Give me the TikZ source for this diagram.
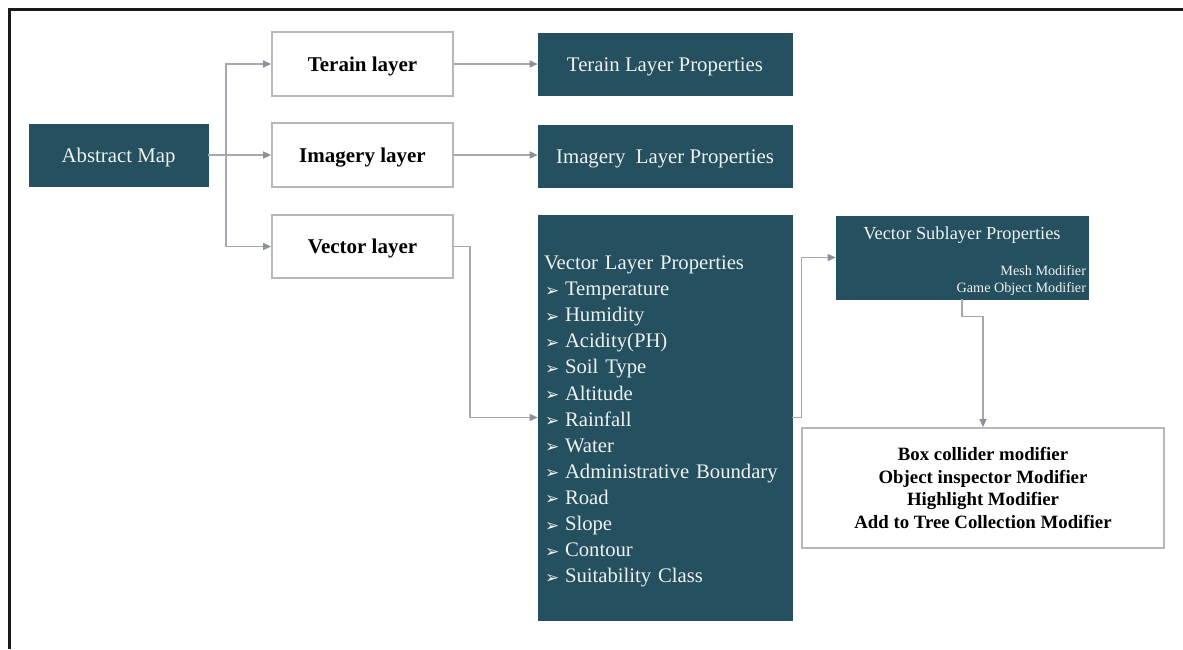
\documentclass[tikz,border=0pt]{standalone}
\usepackage{fontspec}
\setmainfont{Liberation Serif}
\newfontfamily\dejavu{DejaVu Sans}
\usetikzlibrary{arrows.meta}
\definecolor{panel}{HTML}{24505F}
\definecolor{paneltext}{HTML}{EEF1F2}
\definecolor{wire}{HTML}{A4A8B0}
\definecolor{tipcol}{HTML}{8C919C}
\definecolor{boxline}{HTML}{B8B8B8}
\definecolor{frame}{HTML}{1A1A1A}
\newcommand{\pointer}{\makebox[21pt][l]{\hspace{1pt}\raisebox{-0.5pt}{\dejavu\fontsize{17}{17}\selectfont ➢}}}
\begin{document}
\begin{tikzpicture}[x=1pt,y=-1pt,
  darkbox/.style={fill=panel, draw=panel, line width=0.6pt, text=paneltext, inner sep=0pt,
    font=\fontsize{20.8}{25}\selectfont},
  lightbox/.style={fill=white, draw=boxline, line width=1.8pt, inner sep=0pt,
    font=\bfseries\fontsize{21}{25}\selectfont},
  oneline/.style={text height=14pt, text depth=0pt},
  wirearrow/.style={draw=wire, line width=1.4pt, -{Triangle[length=8pt,width=7pt,color=tipcol]}}]
  % page and frame
  \useasboundingbox (0,0) rectangle (1183,649);
  \fill[white] (0,0) rectangle (1183,649);
  \draw[frame, line width=3pt] (9.5,649) -- (9.5,9.5) -- (1183,9.5);

  % first column
  \node[darkbox, oneline, minimum width=179pt, minimum height=62pt] (abs) at (118.5,155) {Abstract Map};

  % layer boxes
  \node[lightbox, oneline, minimum width=181pt, minimum height=64pt] (ter) at (362.5,64) {Terain layer};
  \node[lightbox, oneline, minimum width=181pt, minimum height=64pt] (img) at (362.5,155) {Imagery layer};
  \node[lightbox, oneline, minimum width=181pt, minimum height=63pt] (vec) at (362.5,246.5) {Vector layer};

  % property boxes
  \node[darkbox, oneline, minimum width=254pt, minimum height=62pt] (terp) at (665,64) {Terain Layer Properties};
  \node[darkbox, oneline, minimum width=254pt, minimum height=62pt] (imgp) at (665,156) {Imagery\ \ Layer Properties};
  \node[darkbox, minimum width=254pt, minimum height=405pt] (vecp) at (665,417.5) {};
  \node[text=paneltext, inner sep=0pt, text width=242pt, align=left,
        font=\fontsize{20.7}{26.1}\selectfont] (vecplist) at ([yshift=-4pt]vecp.center)
    {Vector Layer Properties\\
     \pointer Temperature\\
     \pointer Humidity\\
     \pointer Acidity(PH)\\
     \pointer Soil Type\\
     \pointer Altitude\\
     \pointer Rainfall\\
     \pointer Water\\
     \pointer Administrative Boundary\\
     \pointer Road\\
     \pointer Slope\\
     \pointer Contour\\
     \pointer Suitability Class};

  % sublayer box
  \node[darkbox, minimum width=252pt, minimum height=83pt] (sub) at (962,257.5)
    {\begin{minipage}{248pt}\vspace*{7pt}\centering
      \fontsize{18.4}{22}\selectfont Vector Sublayer Properties\par
      \vspace{19pt}\raggedleft
      \fontsize{14.2}{17}\selectfont Mesh Modifier\\Game Object Modifier
     \end{minipage}};

  % modifier box
  \node[lightbox, minimum width=362pt, minimum height=120pt, align=center,
        font=\bfseries\fontsize{18.8}{22.7}\selectfont] (mod) at (983,488)
    {Box collider modifier\\Object inspector Modifier\\Highlight Modifier\\Add to Tree Collection Modifier};

  % connectors
  \coordinate (split) at (226,155);
  \draw[wirearrow] (abs.east) -- (img.west);
  \draw[wirearrow] (split) |- (ter.west);
  \draw[wirearrow] (split) |- (vec.west);
  \draw[wirearrow] (ter.east) -- (terp.west);
  \draw[wirearrow] (img.east) -- (img.east -| imgp.west);
  \draw[wirearrow] (vec.east) -- ++(16,0) |- (vecp.west);
  \draw[wirearrow] (vecp.east) -- ++(9,0) |- (sub.west);
  \draw[wirearrow] (sub.south) -- ++(0,17) -| (mod.north);
\end{tikzpicture}
\end{document}
